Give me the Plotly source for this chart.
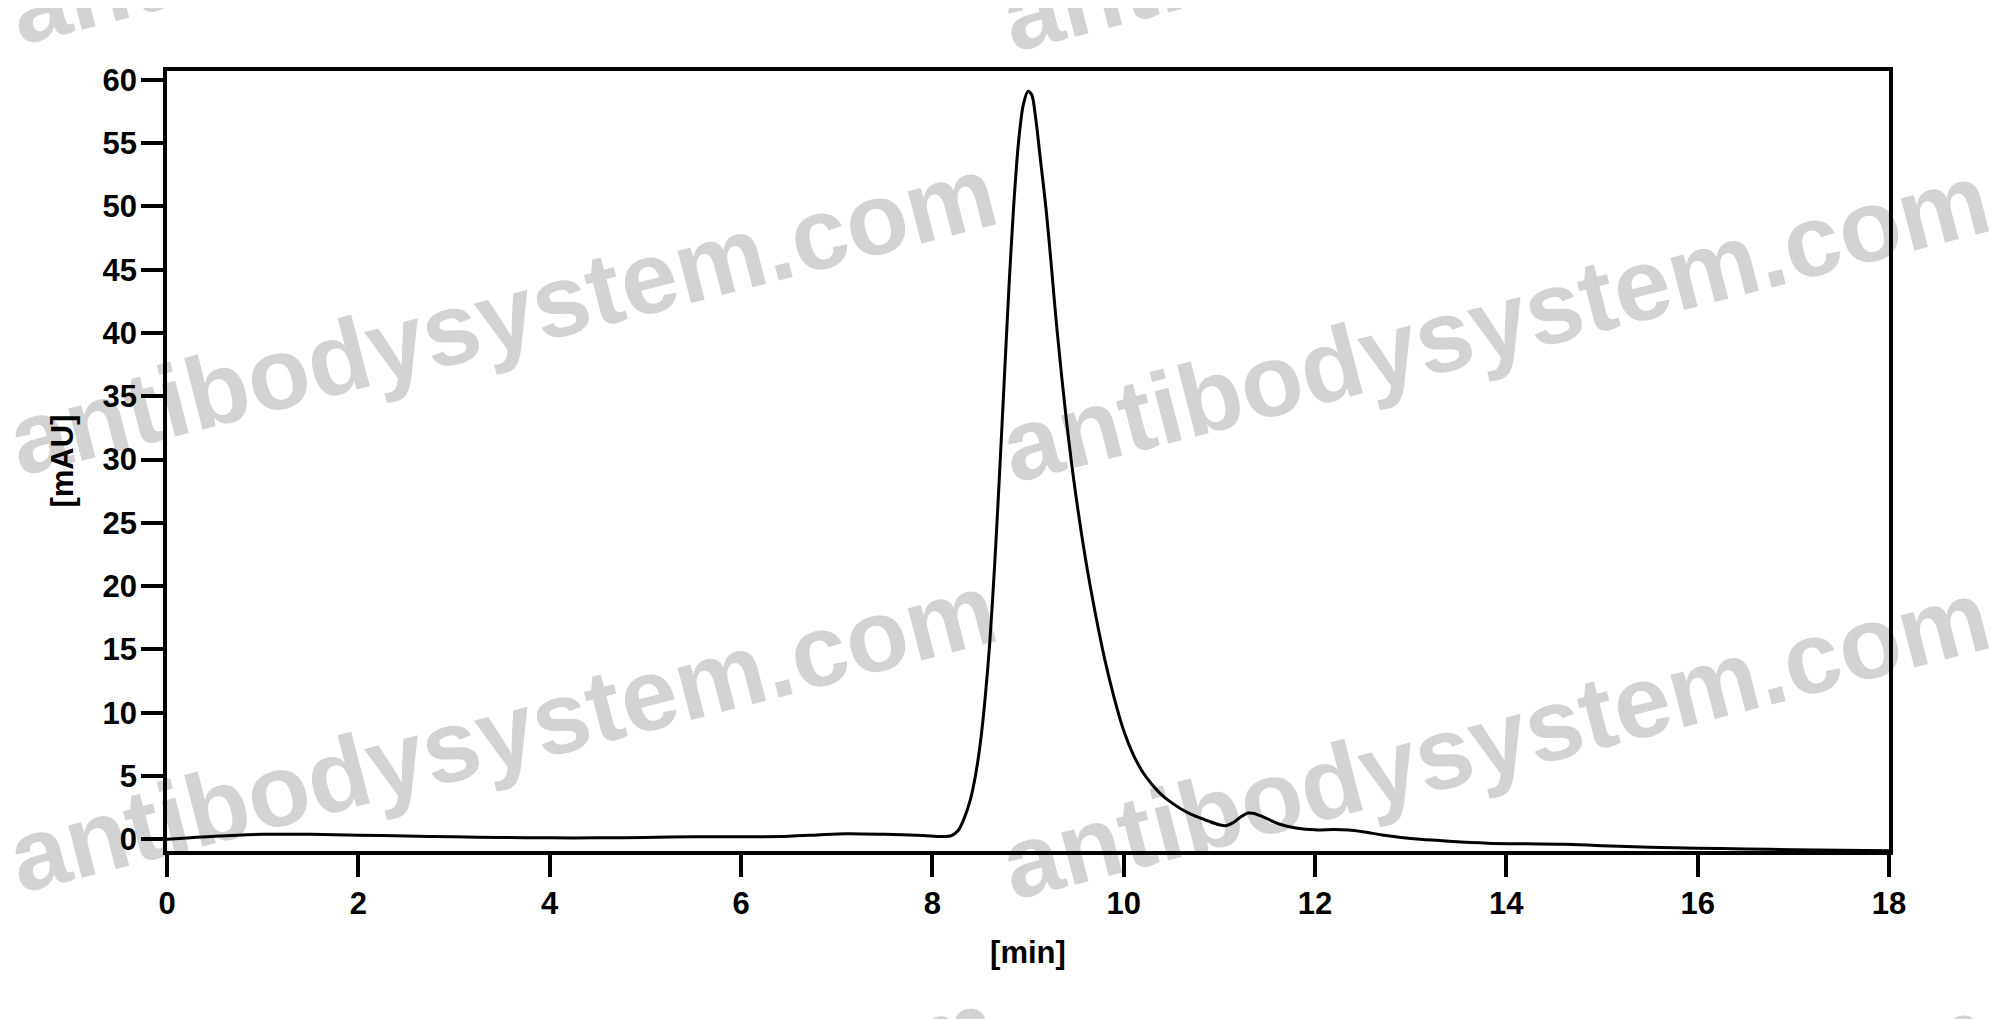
import plotly.graph_objects as go

# Chromatogram trace (time in min, absorbance in mAU)
time_min = [0.0, 0.5, 1.0, 1.5, 2.0, 2.5, 3.0, 3.5, 4.0, 4.5, 5.0, 5.5, 6.0, 6.5, 6.8,
            7.1, 7.5, 7.9, 8.1, 8.2, 8.27, 8.33, 8.4, 8.45, 8.5, 8.55, 8.6, 8.65, 8.7,
            8.75, 8.8, 8.85, 8.9, 8.95, 9.0, 9.04, 9.08, 9.13, 9.19, 9.25, 9.3, 9.4,
            9.5, 9.6, 9.7, 9.8, 9.9, 10.0, 10.1, 10.2, 10.3, 10.4, 10.5, 10.6, 10.7,
            10.8, 10.9, 11.0, 11.07, 11.14, 11.22, 11.3, 11.36, 11.45, 11.55, 11.65,
            11.8, 12.0, 12.2, 12.35, 12.5, 12.7, 12.9, 13.1, 13.4, 13.8, 14.2,
            14.6, 15.0, 15.5, 16.0, 16.5, 17.0, 17.5, 18.0]
signal_mau = [0.0, 0.25, 0.4, 0.4, 0.33, 0.27, 0.2, 0.15, 0.12, 0.12, 0.15, 0.2, 0.2, 0.25, 0.35,
              0.45, 0.4, 0.3, 0.22, 0.3, 0.7, 1.6, 3.2, 5.0, 7.5, 11.0, 15.5, 21.5, 28.5,
              36.0, 43.5, 50.0, 55.0, 58.0, 59.1, 58.8, 57.0, 53.7, 49.7, 44.8, 40.5, 33.2,
              27.2, 22.2, 18.0, 14.3, 11.2, 8.6, 6.7, 5.3, 4.3, 3.5, 2.9, 2.4, 2.0,
              1.7, 1.4, 1.15, 1.08, 1.3, 1.75, 2.08, 2.05, 1.8, 1.45, 1.15,
              0.9, 0.75, 0.78, 0.74, 0.6, 0.35, 0.15, 0.0, -0.15, -0.3, -0.35,
              -0.38, -0.5, -0.62, -0.7, -0.76, -0.82, -0.86, -0.9]

x_ticks = [0, 2, 4, 6, 8, 10, 12, 14, 16, 18]
y_ticks = [0, 5, 10, 15, 20, 25, 30, 35, 40, 45, 50, 55, 60]
x_title = "[min]"
y_title = "[mAU]"
watermark = "antibodysystem.com"

OFF = 8  # default body margin of the html page
W, H = 1999 - OFF, 1019 - OFF
ML, MT = 167 - OFF, 71 - OFF
MR = W - (1889 - OFF)
MB = H - (851 - OFF)
PW, PH = W - ML - MR, H - MT - MB

fig = go.Figure()
fig.add_trace(go.Scatter(
    x=time_min, y=signal_mau, mode="lines",
    line=dict(color="black", width=3, shape="spline", smoothing=0.8),
    showlegend=False, hoverinfo="x+y",
))

# watermark grid (page pixel centres) drawn beneath the plot
wm_centres = []
for cx in (-493, 500, 1493):
    for cy in (-125, 306, 723, 1140):
        wm_centres.append((cx, cy + (7 if cx > 1000 else 0)))

shapes = []
for cx, cy in wm_centres:
    px = (cx - OFF - ML) / PW
    py = 1 - (cy - OFF - MT) / PH
    shapes.append(dict(
        type="rect", xref="paper", yref="paper", layer="below",
        x0=px - 0.01, x1=px + 0.01, y0=py - 0.01, y1=py + 0.01,
        line=dict(width=0), fillcolor="rgba(0,0,0,0)",
        label=dict(text=watermark, textangle=-14.5, textposition="middle center",
                   font=dict(family="Liberation Sans, Arial", size=102, color="#d3d3d3",
                             weight="bold")),
    ))

axis_common = dict(
    showline=True, linecolor="black", linewidth=3.5, mirror=True,
    ticks="outside", ticklen=22, tickwidth=3.5, tickcolor="black",
    showgrid=False, zeroline=False,
    tickfont=dict(family="Liberation Sans, Arial", size=31, color="black", weight="bold"),
)
title_font = dict(family="Liberation Sans, Arial", size=31, color="black", weight="bold")

fig.update_layout(
    width=W, height=H,
    margin=dict(l=ML, r=MR, t=MT, b=MB, pad=0),
    paper_bgcolor="white", plot_bgcolor="rgba(0,0,0,0)",
    shapes=shapes,
    xaxis=dict(range=[0, 18], tickvals=x_ticks, ticktext=[str(v) for v in x_ticks],
               title=dict(text=x_title, standoff=22, font=title_font),
               ticklabelstandoff=0,
               **axis_common),
    yaxis=dict(range=[-0.92, 60.7], tickvals=y_ticks, ticktext=[str(v) for v in y_ticks],
               title=dict(text=y_title, standoff=21, font=title_font),
               ticklabelstandoff=-2,
               **axis_common),
)

fig.write_html("out.html")
